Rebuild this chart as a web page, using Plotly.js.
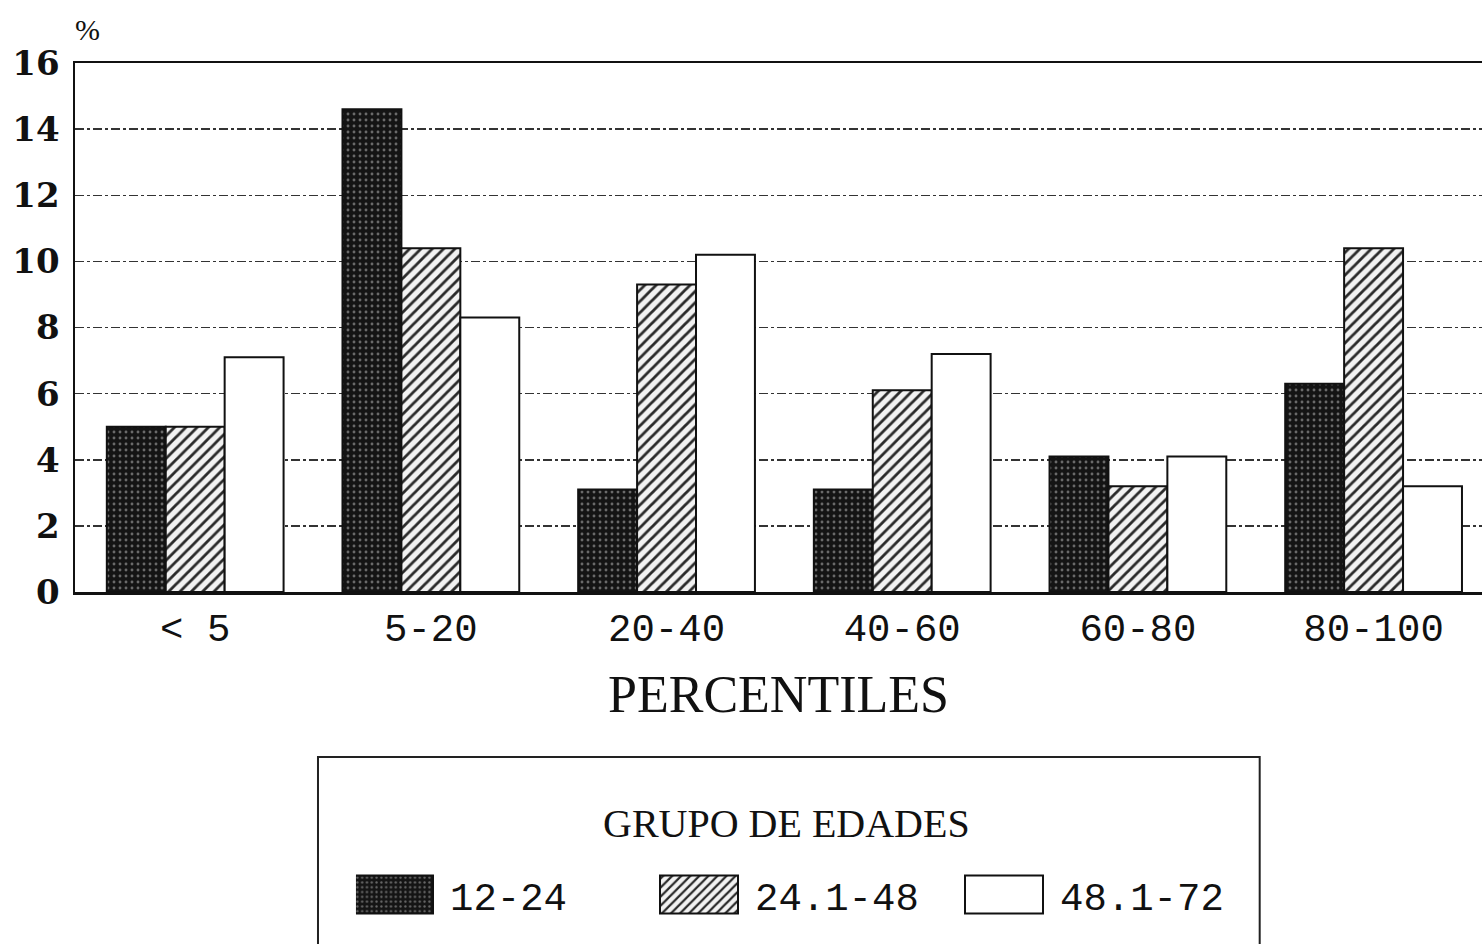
<!DOCTYPE html>
<html>
<head>
<meta charset="utf-8">
<script src="https://cdn.plot.ly/plotly-3.0.1.min.js"></script>
<style>
  html, body { margin: 0; padding: 0; background: #ffffff; }
  #chart { width: 1482px; height: 944px; }
</style>
</head>
<body>
<div id="chart"></div>
<script>
// ---- data ----
const categories = ['< 5', '5-20', '20-40', '40-60', '60-80', '80-100'];
const seriesNames = ['12-24', '24.1-48', '48.1-72'];
const values_12_24 = [5.0, 14.6, 3.1, 3.1, 4.1, 6.3];
const values_24_48 = [5.0, 10.4, 9.3, 6.1, 3.2, 10.4];
const values_48_72 = [7.1, 8.3, 10.2, 7.2, 4.1, 3.2];
const yTicks = [0, 2, 4, 6, 8, 10, 12, 14, 16];

const outline = { color: '#111111', width: 2 };

const traces = [
  {
    type: 'bar', name: seriesNames[0], x: categories, y: values_12_24,
    marker: {
      color: '#141414', line: outline,
      pattern: { shape: '.', fgcolor: '#6a6a6a', bgcolor: '#141414', size: 6, solidity: 0.18 }
    }
  },
  {
    type: 'bar', name: seriesNames[1], x: categories, y: values_24_48,
    marker: {
      color: '#ffffff', line: outline,
      pattern: { shape: '/', fgcolor: '#2a2a2a', bgcolor: '#f2f2f2', size: 8, solidity: 0.35 }
    }
  },
  {
    type: 'bar', name: seriesNames[2], x: categories, y: values_48_72,
    marker: { color: '#ffffff', line: outline }
  }
];

const layout = {
  width: 1482, height: 944,
  margin: { l: 75, r: 0, t: 63, b: 352 },
  paper_bgcolor: '#ffffff', plot_bgcolor: '#ffffff',
  barmode: 'group', bargap: 0.25, bargroupgap: 0,
  showlegend: true,
  xaxis: {
    type: 'category',
    range: [-0.51, 5.46],
    showline: true, linecolor: '#111111', linewidth: 2.5, mirror: true,
    showgrid: false, ticks: '', zeroline: false,
    ticklabelstandoff: 0,
    tickfont: { family: 'Liberation Mono, monospace', size: 39, color: '#111111' },
    title: {
      text: 'PERCENTILES', standoff: 24,
      font: { family: 'Liberation Serif, serif', size: 52, color: '#111111' }
    }
  },
  yaxis: {
    range: [0, 16], tickvals: yTicks, ticktext: yTicks.map(String),
    showline: true, linecolor: '#111111', linewidth: 2.5,
    showgrid: true, gridcolor: '#333333', gridwidth: 1.5, griddash: 'dashdot',
    zeroline: false, ticks: '',
    ticklabelstandoff: 6,
    tickfont: { family: 'DejaVu Serif, serif', size: 34, color: '#111111', weight: 'bold' }
  },
  legend: {
    orientation: 'h',
    x: 0.1997, xanchor: 'left',
    y: -0.572, yanchor: 'middle',
    bgcolor: 'rgba(0,0,0,0)', borderwidth: 0,
    entrywidth: 206, itemwidth: 84,
    font: { family: 'Liberation Mono, monospace', size: 39, color: '#111111' }
  },
  shapes: [
    {
      type: 'path', xref: 'paper', yref: 'paper',
      path: 'M 0.1727 -0.72 L 0.1727 -0.312 L 0.842 -0.312 L 0.842 -0.72',
      line: { color: '#222222', width: 2 }
    }
  ],
  annotations: [
    {
      text: '%', xref: 'paper', yref: 'paper', x: 0.009, y: 1.064,
      xanchor: 'center', yanchor: 'middle', showarrow: false,
      font: { family: 'Liberation Serif, serif', size: 30, color: '#111111' }
    },
    {
      text: 'GRUPO DE EDADES', xref: 'paper', yref: 'paper',
      x: (787 - 75) / 1407, y: (592 - 823) / 529,
      xanchor: 'center', yanchor: 'middle', showarrow: false,
      font: { family: 'Liberation Serif, serif', size: 40, color: '#111111' }
    }
  ]
};

Plotly.newPlot('chart', traces, layout, { displayModeBar: false, staticPlot: true }).then(function () {
  document.querySelectorAll('.legend .legendpoints path').forEach(function (p) {
    p.setAttribute('d', 'M30,19H-48V-19H30Z');
  });
});
</script>
</body>
</html>
